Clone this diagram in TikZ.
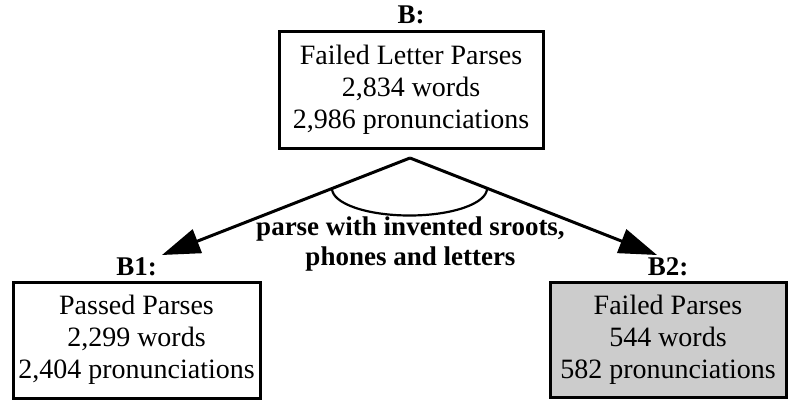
\documentclass[tikz,border=0pt]{standalone}
\usepackage{fontspec}
\setmainfont{Liberation Serif}
\usetikzlibrary{arrows.meta}
\tikzset{
  stagebox/.style={draw=black, line width=3pt, inner sep=0pt, align=center,
    font=\fontsize{28}{32}\selectfont},
  stagelabel/.style={anchor=base, inner sep=0pt, font=\fontsize{27}{30}\selectfont\bfseries},
  bigarrow/.style={line width=3pt, -{Triangle[length=38pt,width=25pt]}},
  edgelabel/.style={align=center, inner sep=0pt, font=\fontsize{27}{30}\selectfont\bfseries}
}
\begin{document}
\begin{tikzpicture}[x=1pt,y=-1pt]
\useasboundingbox (0,0) rectangle (788,400);
% boxes
\node[stagebox, minimum width=264pt, minimum height=117pt] (B) at (411,89.5)
  {Failed Letter Parses\\2,834 words\\2,986 pronunciations};
\node[stagebox, minimum width=247pt, minimum height=116pt] (B1) at (136.5,340)
  {Passed Parses\\2,299 words\\2,404 pronunciations};
\node[stagebox, fill=black!20, minimum width=236pt, minimum height=115pt] (B2) at (668,339.5)
  {Failed Parses\\544 words\\582 pronunciations};
% labels
\node[stagelabel] (Blab) at ([yshift=6pt]B.north) {B:};
\node[stagelabel] (B1lab) at ([yshift=5pt]B1.north) {B1:};
\node[stagelabel] (B2lab) at ([yshift=5pt]B2.north) {B2:};
% arrows
\coordinate (apex) at (410,158);
\coordinate (tipL) at (162,255);
\coordinate (tipR) at (657,255);
\draw[bigarrow] (apex) -- (tipL);
\draw[bigarrow] (apex) -- (tipR);
\coordinate (arcL) at (332,188.5);
\draw[line width=2.2pt] (arcL) arc[start angle=180, end angle=360, x radius=77.5pt, y radius=27pt];
\node[edgelabel] (lab) at (410.5,244) {parse with invented sroots,\\phones and letters};
\end{tikzpicture}
\end{document}
